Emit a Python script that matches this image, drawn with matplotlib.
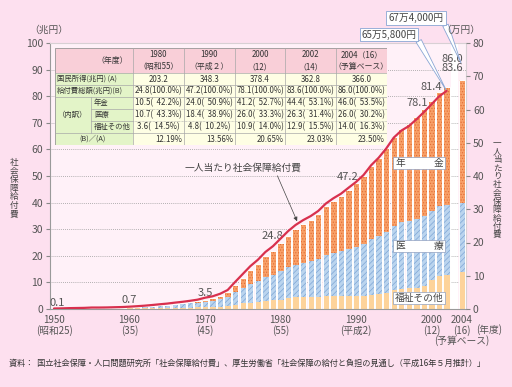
import matplotlib
matplotlib.use('Agg')
import matplotlib.pyplot as plt
from matplotlib.patches import Rectangle

plt.rcParams['font.family'] = ['Noto Sans CJK JP', 'DejaVu Sans']
plt.rcParams['hatch.linewidth'] = 0.5

W, H = 512, 387

# ---------------- data ----------------
years = list(range(1950, 2003)) + [2004]
pension = [0.00, 0.01, 0.01, 0.02, 0.02, 0.02, 0.03, 0.03, 0.04, 0.05,
           0.06, 0.08, 0.10, 0.13, 0.16, 0.21, 0.26, 0.31, 0.39, 0.48,
           0.86, 1.00, 1.22, 1.60, 2.77, 3.88, 5.31, 6.53, 7.81, 8.99,
           10.48, 11.98, 13.35, 14.58, 15.67, 16.87, 18.43, 19.72, 20.89, 22.50,
           24.04, 25.66, 27.56, 29.31, 31.37, 33.50, 34.98, 36.44, 38.41, 39.92,
           41.20, 42.58, 44.40, 46.00]
medical = [0.06, 0.08, 0.11, 0.13, 0.15, 0.20, 0.20, 0.22, 0.27, 0.31,
           0.39, 0.49, 0.61, 0.75, 0.91, 1.01, 1.20, 1.37, 1.56, 1.80,
           2.06, 2.25, 2.79, 3.43, 4.74, 5.76, 6.83, 7.73, 8.87, 9.66,
           10.72, 11.49, 12.25, 12.81, 13.27, 14.30, 15.30, 16.18, 16.90, 17.65,
           18.38, 19.50, 20.91, 22.01, 23.23, 24.06, 25.04, 25.12, 25.70, 26.32,
           26.00, 26.60, 26.30, 26.00]
welfare = [0.07, 0.07, 0.10, 0.11, 0.13, 0.17, 0.17, 0.18, 0.18, 0.19,
           0.20, 0.22, 0.24, 0.27, 0.31, 0.38, 0.43, 0.48, 0.54, 0.59,
           0.60, 0.77, 0.92, 1.20, 1.51, 2.13, 2.43, 2.64, 3.08, 3.30,
           3.57, 4.13, 4.41, 4.55, 4.68, 4.51, 4.85, 4.83, 4.77, 4.76,
           4.80, 4.85, 5.38, 5.50, 5.87, 7.17, 7.52, 7.86, 8.03, 8.79,
           10.91, 12.22, 12.88, 14.00]

pc_years = list(range(1950, 2003))
per_capita = [0.15, 0.19, 0.26, 0.30, 0.34, 0.44, 0.44, 0.47, 0.53, 0.59,
              0.70, 0.84, 1.00, 1.20, 1.42, 1.63, 1.91, 2.16, 2.46, 2.80,
              3.39, 3.82, 4.58, 5.71, 8.16, 10.52, 12.88, 14.80, 17.15, 18.89,
              21.15, 23.41, 25.28, 26.73, 27.95, 29.49, 31.70, 33.30, 34.66, 36.45,
              38.20, 40.30, 43.22, 45.49, 48.26, 51.54, 53.65, 55.01, 57.03, 59.22,
              61.55, 63.94, 65.58]

label_years = [1950, 1960, 1970, 1980, 1990, 2000, 2001, 2002, 2004]
label_texts = ['0.1', '0.7', '3.5', '24.8', '47.2', '78.1', '81.4', '83.6', '86.0']

xtick_years = [1950, 1960, 1970, 1980, 1990, 2000, 2004]
xtick_labels = ['1950\n(昭和25)', '1960\n(35)', '1970\n(45)', '1980\n(55)',
                '1990\n(平成2)', '2000\n(12)', '2004\n(16)']

tbl_header = ['（年度）', '1980\n（昭和55）', '1990\n（平成２）', '2000\n（12）',
              '2002\n（14）', '2004（16）\n（予算ベース）']
tbl_income = ['203.2', '348.3', '378.4', '362.8', '366.0']
tbl_total = ['24.8(100.0%)', '47.2(100.0%)', '78.1(100.0%)', '83.6(100.0%)', '86.0(100.0%)']
tbl_pension = ['10.5(  42.2%)', '24.0(  50.9%)', '41.2(  52.7%)', '44.4(  53.1%)', '46.0(  53.5%)']
tbl_medical = ['10.7(  43.3%)', '18.4(  38.9%)', '26.0(  33.3%)', '26.3(  31.4%)', '26.0(  30.2%)']
tbl_welfare = ['3.6(  14.5%)', '4.8(  10.2%)', '10.9(  14.0%)', '12.9(  15.5%)', '14.0(  16.3%)']
tbl_ratio = ['12.19%', '13.56%', '20.65%', '23.03%', '23.50%']

# ---------------- figure ----------------
fig = plt.figure(figsize=(W / 100, H / 100), dpi=100, facecolor='#fde0ef')

def fx(x):
    return x / W

def fy(y):
    return 1 - y / H

ax = fig.add_axes([fx(50), fy(309), fx(416), 266 / H])
ax.set_facecolor('#fff1f8')
ax.set_xlim(1949.47, 2004.57)
ax.set_ylim(0, 100)
ax.set_yticks(range(0, 101, 10))
ax.set_axisbelow(True)
ax.yaxis.grid(True, linestyle=(0, (1, 1.5)), color='#9a9a9a', lw=0.6)
for s in ['top', 'right']:
    ax.spines[s].set_color('#d8d0d4')
ax.spines['left'].set_color('#9a9a9a')
ax.spines['bottom'].set_color('#9a9a9a')
ax.tick_params(axis='y', length=3, color='#888', labelsize=7.5, labelcolor='#555', pad=2)
ax.tick_params(axis='x', length=0, labelsize=7, labelcolor='#555', pad=4)
ax.set_xticks(xtick_years)
ax.set_xticklabels(xtick_labels, linespacing=1.1)

bw = 0.84
bottom_med = welfare
bottom_pen = [w + m for w, m in zip(welfare, medical)]
totals = [w + m + p for w, m, p in zip(welfare, medical, pension)]

ax.bar(years, welfare, width=bw, color='#fdd39a', linewidth=0)
ax.bar(years, medical, bottom=bottom_med, width=bw, color='#bad4ee',
       edgecolor='#7ea6d6', hatch='//////', linewidth=0)
ax.bar(years, pension, bottom=bottom_pen, width=bw, color='#f8a068',
       edgecolor='#e26c34', hatch='......', linewidth=0)
ax.bar(years, totals, width=bw, fill=False, edgecolor='white', linewidth=0.7)
ax.axvspan(2002.55, 2003.5, color='white', lw=0, zorder=0.5)

# value labels
label_offsets = [(3, 6), (0, 7), (0, 7), (-8, 7), (-8, 6), (-14, -2), (-8, 5), (6, 18.5), (-9, 21)]
for yr, txt, off in zip(label_years, label_texts, label_offsets):
    idx = years.index(yr)
    ax.annotate(txt, xy=(yr, totals[idx]), xytext=off, textcoords='offset pixels',
                ha='center', va='center', fontsize=8, color='#555')

ax2 = ax.twinx()
ax2.set_ylim(0, 80)
ax2.set_yticks(range(0, 81, 10))
ax2.tick_params(axis='y', length=3, color='#888', labelsize=7.5, labelcolor='#555', pad=2)
for s in ax2.spines.values():
    s.set_visible(False)
ax2.plot(pc_years, per_capita, color='#d8304e', lw=1.6, solid_capstyle='round', zorder=5)

# annotations
ax2.annotate('一人当たり社会保障給付費', xy=(1982.2, 26.4), xycoords='data',
             xytext=(243, H - 168), textcoords='figure pixels',
             ha='center', va='center', fontsize=7, color='#444',
             arrowprops=dict(arrowstyle='-|>', color='#444', lw=0.5, mutation_scale=6,
                             shrinkA=0, shrinkB=0, relpos=(0.78, 0.1)))

ax2.annotate('65万5,800円', xy=(2002, per_capita[-1]), xycoords='data',
             xytext=(389, H - 34.5), textcoords='figure pixels',
             ha='center', va='center', fontsize=7, color='#444',
             bbox=dict(boxstyle='square,pad=0.2', fc='white', ec='#8aa6d4', lw=0.6),
             arrowprops=dict(arrowstyle='wedge,tail_width=0.6', fc='white', ec='#8aa6d4',
                             lw=0.6, shrinkA=0, shrinkB=0, relpos=(1.0, 0.25)))
ax2.annotate('67万4,000円', xy=(461, H - 63), xycoords='figure pixels',
             xytext=(416, H - 18), textcoords='figure pixels',
             ha='center', va='center', fontsize=7, color='#444',
             bbox=dict(boxstyle='square,pad=0.2', fc='white', ec='#8aa6d4', lw=0.6),
             arrowprops=dict(arrowstyle='wedge,tail_width=0.6', fc='white', ec='#8aa6d4',
                             lw=0.6, shrinkA=0, shrinkB=0, relpos=(1.0, 0.25)))

# overlay for category boxes and text
ov = fig.add_axes([0, 0, 1, 1], zorder=10)
ov.set_xlim(0, W)
ov.set_ylim(H, 0)
ov.axis('off')

for (top, left_t, right_t) in [(157, '年', '金'), (240, '医', '療')]:
    ov.add_patch(Rectangle((393, top), 52, 12, fc='white', ec='#8f9fbf', lw=0.5))
    ov.text(400, top + 6, left_t, ha='center', va='center', fontsize=7, color='#444')
    ov.text(439, top + 6, right_t, ha='center', va='center', fontsize=7, color='#444')
ov.add_patch(Rectangle((393, 292), 52, 12, fc='white', ec='#8f9fbf', lw=0.5))
ov.text(419, 298, '福祉その他', ha='center', va='center', fontsize=7, color='#444')

ov.text(49, 30, '（兆円）', ha='center', va='center', fontsize=7, color='#555')
ov.text(461, 30, '（万円）', ha='center', va='center', fontsize=7, color='#555')
ov.text(14, 188, '\n'.join('社会保障給付費'), ha='center', va='center', fontsize=6.2,
        color='#444', linespacing=0.95)
ov.text(497, 189, '\n'.join('一人当たり社会保障給付費'), ha='center', va='center', fontsize=6.2,
        color='#444', linespacing=0.9)
ov.text(489, 330, '(年度)', ha='center', va='center', fontsize=7, color='#555')
ov.text(462, 341, '(予算ベース)', ha='center', va='center', fontsize=7, color='#555')
ov.text(9, 363, '資料：  国立社会保障・人口問題研究所「社会保障給付費」、厚生労働省「社会保障の給付と負担の見通し（平成16年５月推計）」',
        ha='left', va='center', fontsize=5.9, color='#333')

# ---------------- table ----------------
tax = fig.add_axes([fx(55), fy(145), fx(332), 97 / H], zorder=8)
tax.set_xlim(55, 387)
tax.set_ylim(145, 48)
tax.axis('off')
xs = [55, 90.7, 132.7, 184, 235, 285.3, 336, 387]
tax.add_patch(Rectangle((55, 48), 332, 25, fc='#f9cfd8', ec='none'))
tax.add_patch(Rectangle((55, 73), 77.7, 72, fc='#e3f4c8', ec='none'))
tax.add_patch(Rectangle((132.7, 73), 254.3, 72, fc='#fefee4', ec='none'))
lc = '#a8a8a8'
for x in xs[2:-1]:
    tax.plot([x, x], [48, 145], color=lc, lw=0.5)
tax.plot([90.7, 90.7], [97, 133], color=lc, lw=0.5)
for y in [73, 85, 97, 133]:
    tax.plot([55, 387], [y, y], color=lc, lw=0.5)
for y in [109, 121]:
    tax.plot([90.7, 132.7], [y, y], color=lc, lw=0.5)
    tax.plot([132.7, 387], [y, y], color=lc, lw=0.5, linestyle=(0, (1, 1)))
tax.add_patch(Rectangle((55, 48), 332, 97, fc='none', ec='#999', lw=0.6))

fs = 5.7
fl = 5.3
tc = '#333'
tax.text(112, 60.5, tbl_header[0], ha='center', va='center', fontsize=fs, color=tc)
for i in range(5):
    cx = (xs[i + 2] + xs[i + 3]) / 2
    tax.text(cx, 60.5, tbl_header[i + 1], ha='center', va='center', fontsize=fs,
             color=tc, linespacing=1.5)
    tax.text(cx, 79, tbl_income[i], ha='center', va='center', fontsize=fs, color=tc)
    tax.text(cx, 91, tbl_total[i], ha='center', va='center', fontsize=fs, color=tc)
    tax.text(cx, 103, tbl_pension[i], ha='center', va='center', fontsize=fs, color=tc)
    tax.text(cx, 115, tbl_medical[i], ha='center', va='center', fontsize=fs, color=tc)
    tax.text(cx, 127, tbl_welfare[i], ha='center', va='center', fontsize=fs, color=tc)
    tax.text(xs[i + 3] - 2, 139, tbl_ratio[i], ha='right', va='center', fontsize=fs, color=tc)
tax.text(57, 79, '国民所得(兆円) (A)', ha='left', va='center', fontsize=fl, color=tc)
tax.text(57, 91, '給付費総額(兆円)(B)', ha='left', va='center', fontsize=fl, color=tc)
tax.text(73, 115, '（内訳）', ha='center', va='center', fontsize=fl, color=tc)
tax.text(94, 103, '年金', ha='left', va='center', fontsize=fl, color=tc)
tax.text(94, 115, '医療', ha='left', va='center', fontsize=fl, color=tc)
tax.text(94, 127, '福祉その他', ha='left', va='center', fontsize=fl, color=tc)
tax.text(93, 139, '(B)／(A)', ha='center', va='center', fontsize=fl, color=tc)

fig.savefig('out.png', dpi=100, facecolor=fig.get_facecolor())
